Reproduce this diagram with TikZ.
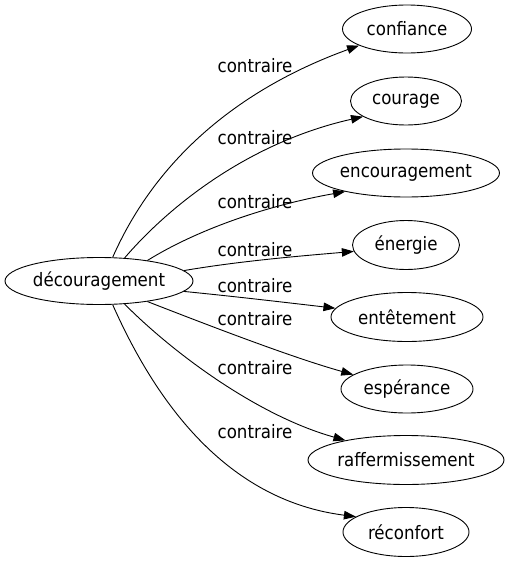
\documentclass[tikz,border=0pt]{standalone}
\usepackage{fontspec}
\setmainfont{DejaVu Sans Condensed}
\usetikzlibrary{shapes.geometric,arrows.meta}
\tikzset{
  word/.style={ellipse,draw,line width=0.9pt,inner sep=0pt,minimum height=48pt,font=\fontsize{18.5}{20}\selectfont,text=black},
  rel/.style={font=\fontsize{18.5}{20}\selectfont,text=black,inner sep=0pt},
  link/.style={line width=0.9pt,-{Triangle[length=12pt,width=8.5pt]}}
}
\begin{document}
\begin{tikzpicture}[x=1pt,y=-1pt]
\useasboundingbox (0,0) rectangle (510,563);
\node[word,minimum width=188pt,minimum height=47pt] (dec) at (99,281) {découragement};
\node[word,minimum width=129pt] (conf) at (407,29) {confiance};
\node[word,minimum width=111pt] (cour) at (406,101) {courage};
\node[word,minimum width=187pt] (enc) at (406,173) {encouragement};
\node[word,minimum width=107pt,minimum height=49pt] (ener) at (406,245) {énergie};
\node[word,minimum width=152pt,minimum height=49pt] (ent) at (407,317) {entêtement};
\node[word,minimum width=132pt] (esp) at (407,389) {espérance};
\node[word,minimum width=196pt,minimum height=49pt] (raf) at (406,460) {raffermissement};
\node[word,minimum width=126pt,minimum height=49pt] (rec) at (406,532) {réconfort};

\draw[link] (dec.60) .. controls (160,150) and (250,85) .. (conf.199);
\draw[link] (dec.42) .. controls (170,205) and (250,142) .. (cour.200);
\draw[link] (dec.23) .. controls (200,228) and (270,205) .. (enc.197);
\draw[link] (dec.7) .. controls (240,261) and (300,256) .. (ener.187);
\draw[link] (dec.-7) .. controls (240,297) and (290,303) .. (ent.173);
\draw[link] (dec.-23) .. controls (200,322) and (290,357) .. (esp.165);
\draw[link] (dec.-42) .. controls (170,350) and (255,415) .. (raf.162);
\draw[link] (dec.-60) .. controls (155,400) and (225,500) .. (rec.163);

\node[rel] (l1) at (255,66) {contraire};
\node[rel] (l2) at (255,138) {contraire};
\node[rel] (l3) at (255,202) {contraire};
\node[rel] (l4) at (255,250) {contraire};
\node[rel] (l5) at (255,286) {contraire};
\node[rel] (l6) at (255,319) {contraire};
\node[rel] (l7) at (255,368) {contraire};
\node[rel] (l8) at (255,432) {contraire};
\end{tikzpicture}
\end{document}
